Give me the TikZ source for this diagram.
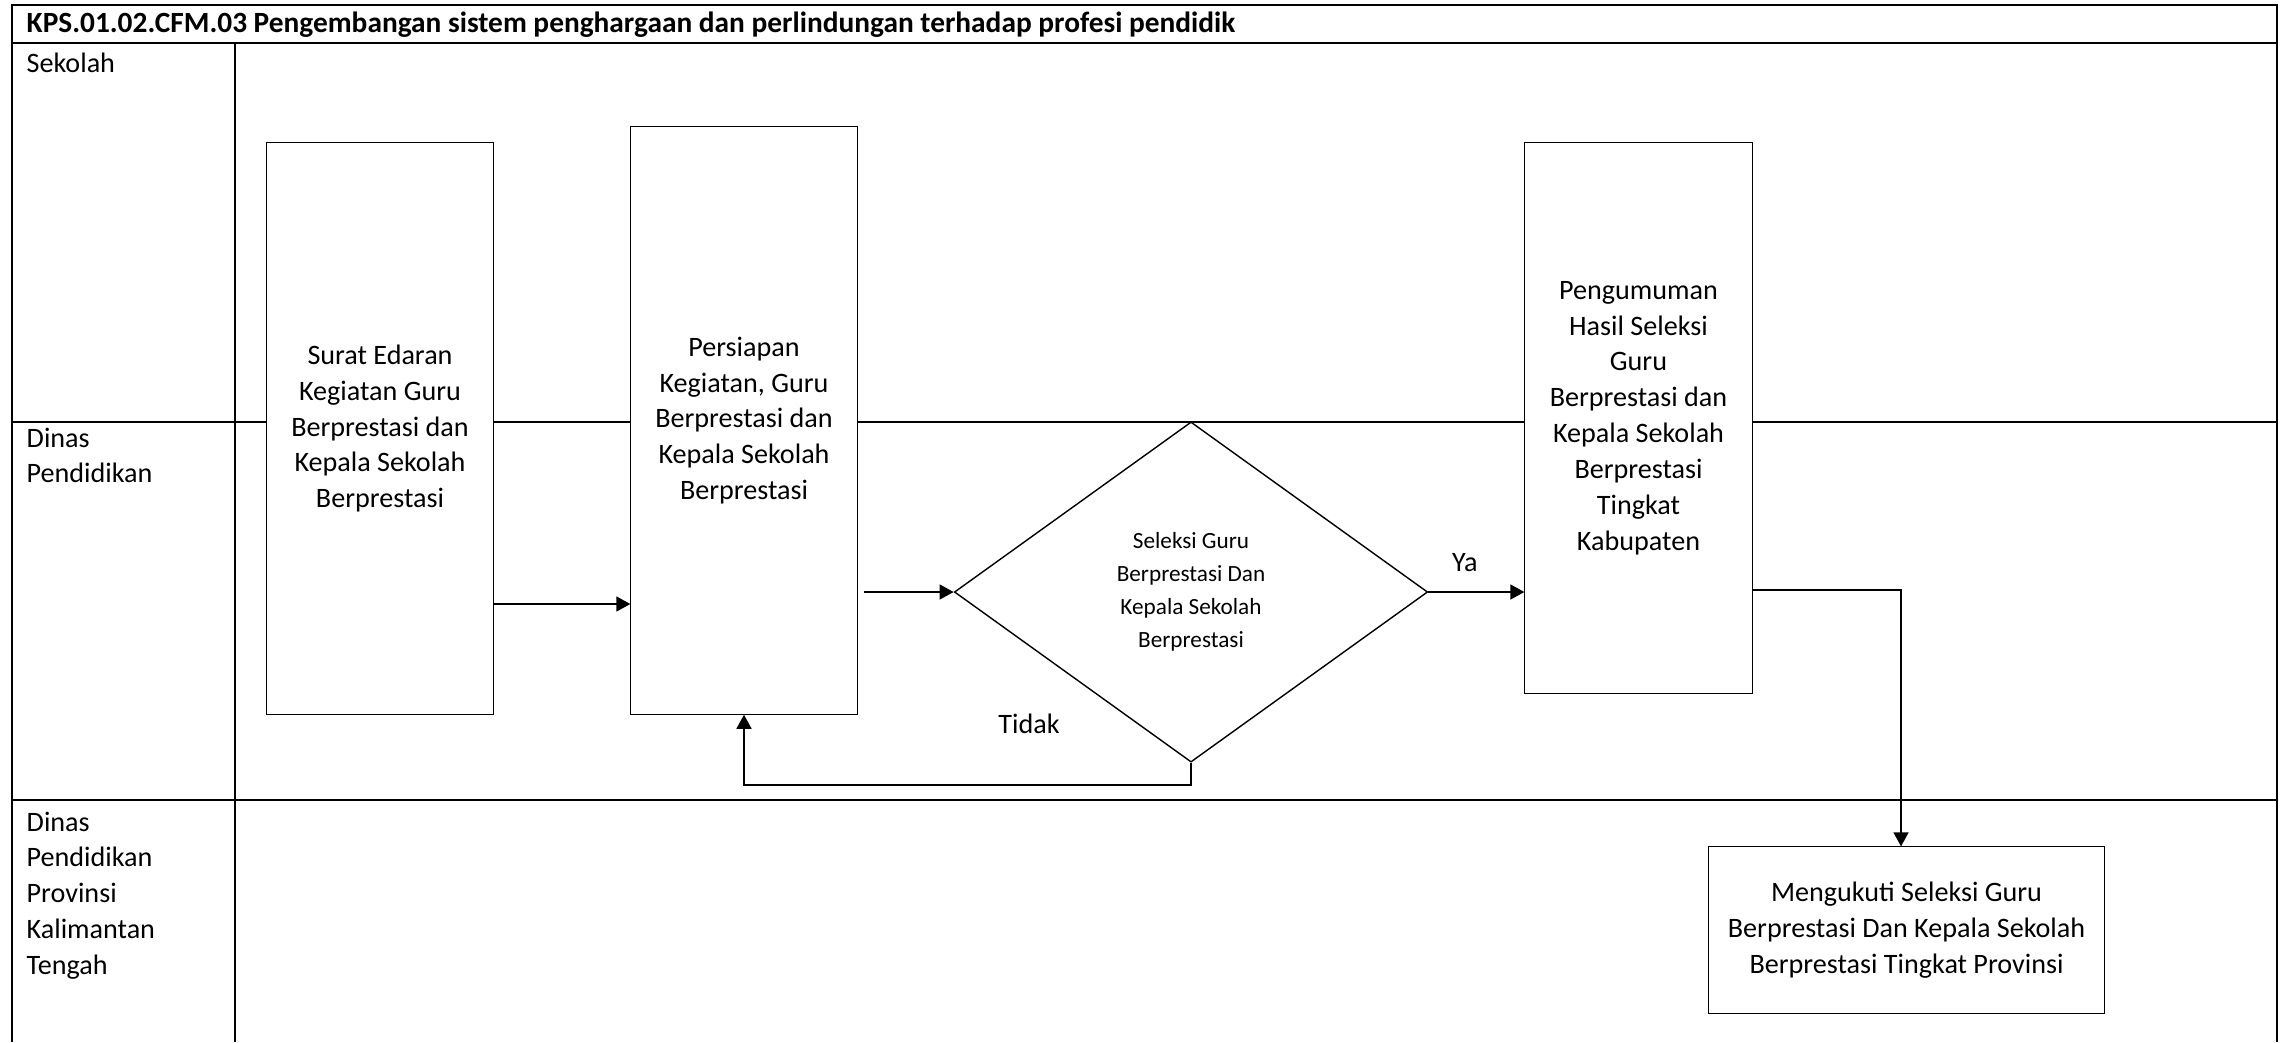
\documentclass[tikz,border=0pt]{standalone}
\usepackage{fontspec}
\setmainfont{Carlito}
\usetikzlibrary{arrows.meta,shapes.geometric}

\begin{document}
\begin{tikzpicture}[x=0.01cm,y=-0.01cm,
    every node/.style={font=\fontsize{8}{10.2}\selectfont},
    proc/.style={draw,line width=0.3pt,fill=white,inner sep=0pt,align=center},
    decision/.style={diamond,draw,line width=0.4pt,fill=white,inner sep=0pt,align=center,
      font=\fontsize{6.6}{9.4}\selectfont},
    lanelabel/.style={anchor=north west,inner sep=0pt,align=left},
    lane/.style={line width=0.6pt},
    flow/.style={-{Triangle[length=4pt,width=4.2pt]},line width=0.65pt}]
    \useasboundingbox (0,0) rectangle (2289,1042);
    %lanes
    \draw[lane] (12,1042) -- (12,5) -- (2277,5) -- (2277,1042);
    \draw[lane] (12,43) -- (2277,43);
    \draw[lane] (12,422) -- (2277,422);
    \draw[lane] (12,800) -- (2277,800);
    \draw[lane] (235,43) -- (235,1042);
    \node[anchor=base west,inner sep=0pt,font=\bfseries\fontsize{8.35}{10.2}\selectfont] (title) at (26,32)
      {KPS.01.02.CFM.03 Pengembangan sistem penghargaan dan perlindungan terhadap profesi pendidik};
    \node[lanelabel] (sekolah) at (26,52) {Sekolah};
    \node[lanelabel] (dinas) at (26,427) {Dinas\\Pendidikan};
    \node[lanelabel] (dinasprov) at (26,811) {Dinas\\Pendidikan\\Provinsi\\Kalimantan\\Tengah};
    %states
    \node[proc,minimum width=2.26cm,minimum height=5.71cm] (surat) at (380,428.5)
      {Surat Edaran\\Kegiatan Guru\\Berprestasi dan\\Kepala Sekolah\\Berprestasi};
    \node[proc,minimum width=2.26cm,minimum height=5.87cm] (persiapan) at (744,420.5)
      {Persiapan\\Kegiatan, Guru\\Berprestasi dan\\Kepala Sekolah\\Berprestasi};
    \node[decision,minimum width=4.73cm,minimum height=3.40cm] (seleksi) at (1191,592)
      {Seleksi Guru\\Berprestasi Dan\\Kepala Sekolah\\Berprestasi};
    \node[proc,minimum width=2.27cm,minimum height=5.50cm] (pengumuman) at (1638.5,418)
      {Pengumuman\\Hasil Seleksi\\Guru\\Berprestasi dan\\Kepala Sekolah\\Berprestasi\\Tingkat\\Kabupaten};
    \node[proc,minimum width=3.95cm,minimum height=1.66cm] (provinsi) at (1906.5,930)
      {Mengukuti Seleksi Guru\\Berprestasi Dan Kepala Sekolah\\Berprestasi Tingkat Provinsi};
    \node (tidak) at (1029,724) {Tidak};
    %edges
    \draw[flow] (surat.east |- 0,604) -- (persiapan.west |- 0,604);
    \draw[flow] (persiapan.east |- seleksi.west) ++(6,0) -- (seleksi.west);
    \draw[flow] (seleksi.east) -- (pengumuman.west |- seleksi.east) node[pos=0.38,above=2pt] {Ya};
    \draw[flow] (seleksi.south) -- ++(0,22) -| (persiapan.south);
    \draw[flow] (pengumuman.east |- 0,590) -- (1901,590) -- (provinsi.north -| 1901,0);
\end{tikzpicture}
\end{document}
